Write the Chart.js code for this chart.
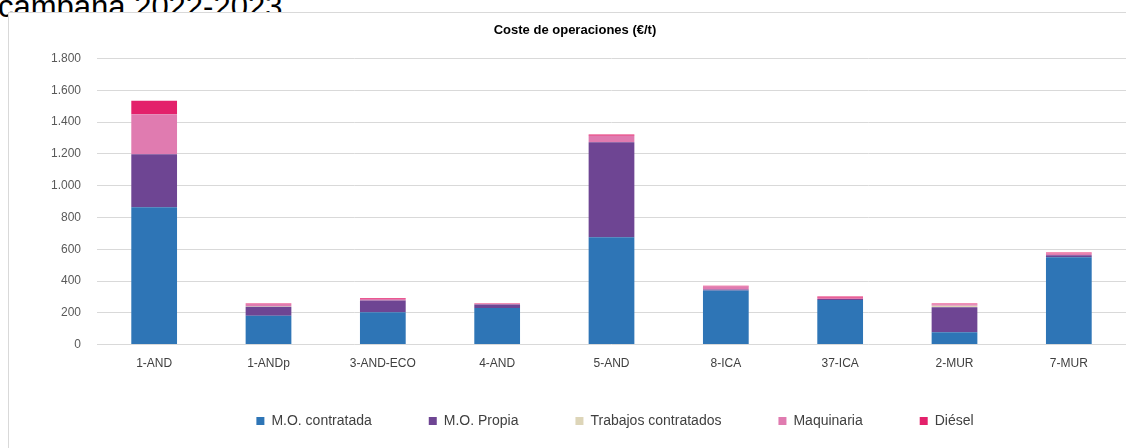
<!DOCTYPE html>
<html>
<head>
<meta charset="utf-8">
<script src="https://cdn.jsdelivr.net/npm/chart.js@4.4.0/dist/chart.umd.min.js"></script>
<style>
  body { margin: 0; background: #fff; overflow: hidden; width: 1126px; height: 448px; position: relative; }
  #heading { position: absolute; left: -2px; top: -8px; font: 31px/30px "Liberation Sans", Arial, sans-serif; color: #000; white-space: nowrap; }
  #frame { position: absolute; left: 8px; top: 12px; width: 1200px; height: 500px; border: 1px solid #d9d9d9; background: #fff; }
  #wrap { position: absolute; left: 9px; top: 13px; width: 1117px; height: 435px; }
</style>
</head>
<body>
<div id="heading">campaña 2022-2023.</div>
<div id="frame"></div>
<div id="wrap"><canvas id="myChart"></canvas></div>
<script>
const labels = ['1-AND', '1-ANDp', '3-AND-ECO', '4-AND', '5-AND', '8-ICA', '37-ICA', '2-MUR', '7-MUR'];
const moContratada = [865, 182, 203, 231, 675, 340, 281, 77, 550];
const moPropia = [333, 57, 74, 21, 598, 6, 6, 158, 12];
const trabajosContratados = [0, 3, 0, 0, 0, 0, 0, 10, 0];
const maquinaria = [251, 13, 10, 4, 42, 20, 8, 9, 12];
const diesel = [86, 3, 4, 2, 7, 5, 7, 4, 5];
const yTicks = [0, 200, 400, 600, 800, 1000, 1200, 1400, 1600, 1800];

const font = "'Liberation Sans', Arial, sans-serif";

function serie(label, values, color) {
    return {
        label: label,
        data: values,
        backgroundColor: color,
        borderWidth: 0,
        categoryPercentage: 1,
        barPercentage: 0.4,
    };
}

// legend sits a bit right of centre and lower than chart.js puts it
const moveLegend = {
    id: 'moveLegend',
    afterLayout(chart) {
        const lg = chart.legend;
        lg.left += 40;
        lg.right += 40;
        lg.top = lg.bottom - 83;
    }
};

const data = {
    labels: labels,
    datasets: [
        serie('M.O. contratada', moContratada, '#2e75b6'),
        serie('M.O. Propia', moPropia, '#6e4593'),
        serie('Trabajos contratados', trabajosContratados, '#ddd5b8'),
        serie('Maquinaria', maquinaria, '#e07bb0'),
        serie('Diésel', diesel, '#e3216b'),
    ]
};

const config = {
    type: 'bar',
    data: data,
    plugins: [moveLegend],
    options: {
        responsive: true,
        maintainAspectRatio: false,
        animation: false,
        layout: { padding: { left: 15, right: 0, top: 0, bottom: 8 } },
        plugins: {
            title: {
                display: true,
                text: 'Coste de operaciones (€/t)',
                color: '#000',
                font: { family: font, size: 13, weight: 'bold' },
                padding: { top: 10, bottom: 20 }
            },
            legend: {
                position: 'bottom',
                maxHeight: 65,
                labels: {
                    boxWidth: 8,
                    boxHeight: 8,
                    padding: 57,
                    color: '#404040',
                    font: { family: font, size: 14 }
                }
            },
            tooltip: { enabled: false }
        },
        scales: {
            x: {
                stacked: true,
                grid: { display: false },
                border: { display: false },
                ticks: { color: '#404040', font: { family: font, size: 12 }, padding: 4 }
            },
            y: {
                stacked: true,
                min: 0,
                max: 1800,
                afterFit(scale) { scale.width = 73; },
                afterBuildTicks(scale) { scale.ticks = yTicks.map(v => ({ value: v })); },
                grid: { color: '#d9d9d9', drawTicks: false },
                border: { display: false },
                ticks: {
                    color: '#595959',
                    padding: 16,
                    font: { family: font, size: 12 },
                    callback: v => v.toString().replace(/\B(?=(\d{3})+(?!\d))/g, '.')
                }
            }
        }
    }
};

const myChart = new Chart(
    document.getElementById('myChart'),
    config
);
</script>
</body>
</html>
